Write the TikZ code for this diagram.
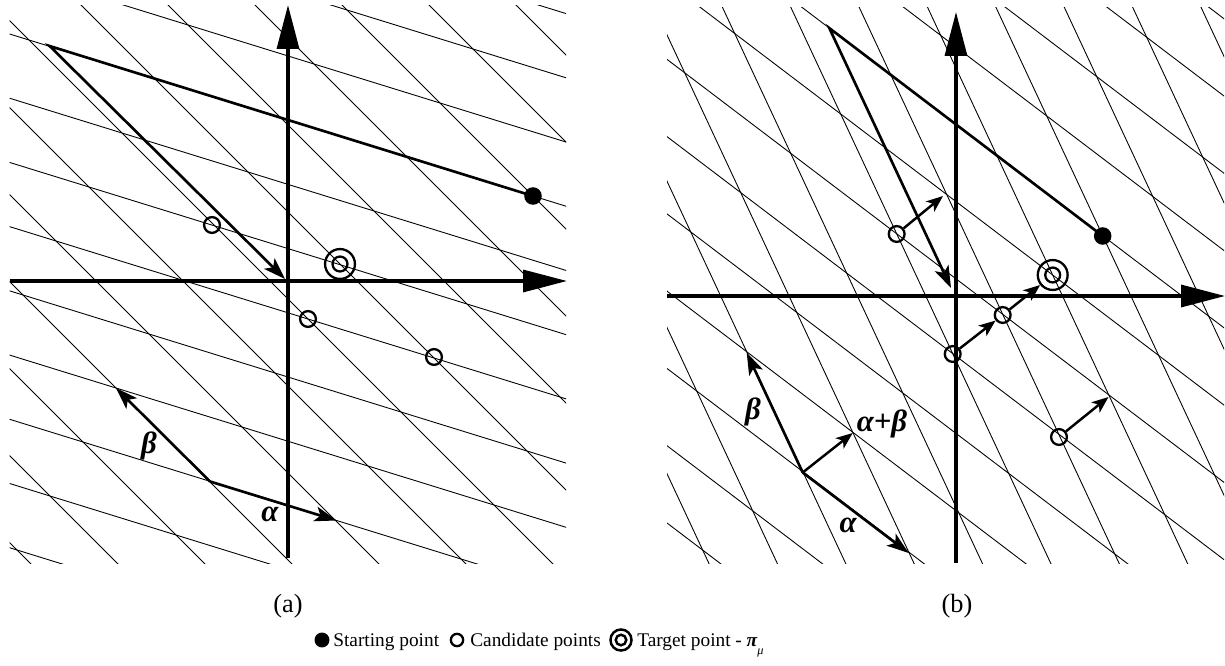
\documentclass[tikz,border=0pt]{standalone}
\usepackage{fontspec}
\setmainfont{Liberation Serif}
\usetikzlibrary{arrows.meta}
\begin{document}
\begin{tikzpicture}[x=0.02cm,y=-0.02cm,
  lat/.style={line width=0.5pt},
  axis/.style={line width=1.9pt,-{Triangle[length=25pt,width=12.5pt]}},
  vec/.style={line width=1.5pt,line join=miter,-{Stealth[length=12.5pt,width=8.5pt,inset=3pt]}},
  svec/.style={line width=1.4pt,-{Stealth[length=9.5pt,width=7.5pt,inset=2.5pt]}},
  cand/.style={circle,draw,line width=1.3pt,minimum size=9pt,inner sep=0pt},
  startpt/.style={circle,fill,minimum size=10pt,inner sep=0pt},
  tgto/.style={circle,draw,line width=1.3pt,minimum size=17pt,inner sep=0pt},
  tgti/.style={circle,draw,line width=1.3pt,minimum size=8.5pt,inner sep=0pt},
  lbl/.style={font=\fontsize{17.5}{19}\selectfont\bfseries\itshape,inner sep=0pt},
  captxt/.style={font=\fontsize{15}{17}\selectfont,inner sep=0pt},
  leg/.style={font=\fontsize{11}{12}\selectfont,inner sep=0pt,anchor=base west},
  legdot/.style={circle,fill,minimum size=8.5pt,inner sep=0pt},
  legcand/.style={circle,draw,line width=1.3pt,minimum size=7pt,inner sep=0pt},
  legto/.style={circle,draw,line width=1.4pt,minimum size=12pt,inner sep=0pt},
  legti/.style={circle,draw,line width=1.4pt,minimum size=6pt,inner sep=0pt}
]
\useasboundingbox (0,0) rectangle (1225,666);

% ---------- panel (a) lattice ----------
\begin{scope}
\clip (9.5,5) rectangle (566,563);
\foreach \i in {-5,...,11} {
  \draw[lat] ({209+126*\i+930},{481+39*\i+930}) -- ({209+126*\i-930},{481+39*\i-930});
}
\foreach \j in {-4,...,11} {
  \draw[lat] ({209-93*\j-1260},{481-93*\j-390}) -- ({209-93*\j+1260},{481-93*\j+390});
}
\end{scope}

% ---------- panel (b) lattice ----------
\begin{scope}
\clip (667,7) rectangle (1224,563);
\foreach \i in {-9,...,6} {
  \draw[lat] ({1052.7+106*\i+560},{275+80.5*\i+1198}) -- ({1052.7+106*\i-560},{275+80.5*\i-1198});
}
\foreach \j in {-9,...,7} {
  \draw[lat] ({1052.7-56*\j-1060},{275-119.8*\j-805}) -- ({1052.7-56*\j+1060},{275-119.8*\j+805});
}
\end{scope}

% ---------- axes ----------
\coordinate (axl) at (9.5,281);
\coordinate (axr) at (567,281);
\coordinate (axb) at (288,558);
\coordinate (axt) at (288,5);
\draw[axis] (axl) -- (axr);
\draw[axis] (axb) -- (axt);

\coordinate (bxl) at (667,296);
\coordinate (bxr) at (1225,296);
\coordinate (bxb) at (956,563);
\coordinate (bxt) at (956,12);
\draw[axis] (bxl) -- (bxr);
\draw[axis] (bxb) -- (bxt);

% ---------- panel (a) content ----------
\node[startpt] (sa) at (533,196) {};
\coordinate (va) at (49.6,46);
\coordinate (oa) at (285,279);
\draw[vec] (sa.center) -- (va) -- (oa);

\node[cand] (ca1) at (212,225) {};
\node[cand] (ca2) at (308,319) {};
\node[cand] (ca3) at (434,357) {};
\node[tgto] (ta) at (340,264) {};
\node[tgti] (tai) at (340,264) {};

\coordinate (ba) at (210,481.5);
\coordinate (ba1) at (336.5,520.5);
\coordinate (ba2) at (116,388);
\draw[vec] (ba) -- (ba1);
\draw[vec] (ba) -- (ba2);
\node[lbl] (lbA) at (270,514) {α};
\node[lbl] (lbB) at (149,446) {β};

% ---------- panel (b) content ----------
\node[startpt] (sb) at (1102.7,236) {};
\coordinate (vb) at (829.3,28.1);
\coordinate (ob) at (951,288);
\draw[vec] (sb.center) -- (vb) -- (ob);

\node[cand] (cb1) at (896.7,234) {};
\node[cand] (cb2) at (952.7,354) {};
\node[cand] (cb3) at (1002.7,315) {};
\node[cand] (cb4) at (1059,437) {};
\node[tgto] (tb) at (1052.7,275) {};
\node[tgti] (tbi) at (1052.7,275) {};
\coordinate (pb1) at (943,196);
\coordinate (pb4) at (1108.5,397);
\draw[svec] (cb1) -- (pb1);
\draw[svec] (cb2) -- (cb3);
\draw[svec] (cb3) -- (tb);
\draw[svec] (cb4) -- (pb4);

\coordinate (bb) at (802.7,472.5);
\coordinate (bb1) at (908.7,553);
\coordinate (bb2) at (746.7,352.7);
\coordinate (bb3) at (852.7,433);
\draw[vec] (bb) -- (bb1);
\draw[vec] (bb) -- (bb2);
\draw[svec] (bb) -- (bb3);
\node[lbl] (lbbA) at (848,525) {α};
\node[lbl] (lbbB) at (753,412) {β};
\node[lbl] (lbbC) at (882,424) {α+β};

% ---------- captions ----------
\node[captxt] (capa) at (288,606) {(a)};
\node[captxt] (capb) at (957,606) {(b)};

% ---------- legend ----------
\node[legdot] (l1) at (322,640) {};
\node[leg] (t1) at (333,646) {Starting point};
\node[legcand] (l2) at (457,640) {};
\node[leg] (t2) at (470,646) {Candidate points};
\node[legto] (l3) at (621,640) {};
\node[legti] (l3i) at (621,640) {};
\node[leg] (t3) at (637,646) {Target point - {\bfseries\itshape π}\raisebox{-5pt}{\fontsize{7}{8}\selectfont\itshape μ}};
\end{tikzpicture}
\end{document}
